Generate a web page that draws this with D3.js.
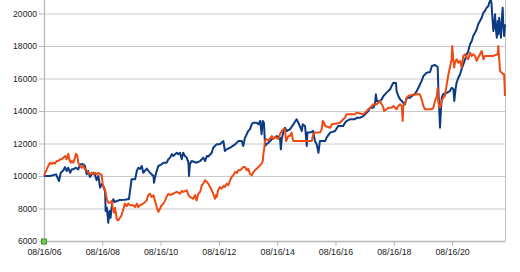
<!DOCTYPE html>
<html><head><meta charset="utf-8">
<script src="https://cdn.jsdelivr.net/npm/d3@7"></script>
<style>html,body{margin:0;padding:0;background:#fff;} svg{display:block;}</style>
</head><body><svg id="c" width="520" height="272"></svg>
<script>
const yTicks = [6000, 8000, 10000, 12000, 14000, 16000, 18000, 20000];
const xTickYears = [2006.625, 2008.625, 2010.625, 2012.625, 2014.625, 2016.625, 2018.625, 2020.625];
const xTickLabels = ["08/16/06", "08/16/08", "08/16/10", "08/16/12", "08/16/14", "08/16/16", "08/16/18", "08/16/20"];

// [decimal year, value]
const seriesBlue = [[2006.63,10000],[2006.83,10000],[2007.04,10100],[2007.14,9690],[2007.20,10200],[2007.29,10350],[2007.35,10550],[2007.40,10310],[2007.46,10510],[2007.52,10200],[2007.58,10410],[2007.63,10410],[2007.72,10510],[2007.80,10410],[2007.86,10720],[2007.97,10720],[2008.03,10620],[2008.09,10100],[2008.14,10310],[2008.20,9940],[2008.26,10100],[2008.32,10200],[2008.37,10100],[2008.43,9740],[2008.49,10000],[2008.55,9280],[2008.60,9490],[2008.66,9385],[2008.72,9080],[2008.74,7850],[2008.78,8050],[2008.83,7130],[2008.87,7850],[2008.91,7430],[2008.95,8150],[2009.00,8570],[2009.06,8400],[2009.12,8460],[2009.23,8520],[2009.40,8540],[2009.54,8590],[2009.63,9800],[2009.75,9800],[2009.81,10310],[2009.86,10510],[2009.92,10430],[2009.98,10620],[2010.03,10200],[2010.15,10460],[2010.26,10200],[2010.38,10000],[2010.40,9590],[2010.43,9900],[2010.49,10310],[2010.55,10620],[2010.66,10720],[2010.72,10820],[2010.83,10820],[2010.89,11030],[2010.95,11130],[2011.01,11340],[2011.06,11230],[2011.18,11430],[2011.23,11340],[2011.29,11430],[2011.35,11030],[2011.40,11430],[2011.46,11230],[2011.52,11130],[2011.58,10820],[2011.60,10000],[2011.63,10720],[2011.69,10920],[2011.86,10820],[2011.98,10920],[2012.09,11130],[2012.15,10920],[2012.21,11230],[2012.26,11200],[2012.38,11430],[2012.43,11740],[2012.49,11850],[2012.55,11950],[2012.66,11950],[2012.78,12150],[2012.83,11540],[2012.89,11640],[2013.01,11740],[2013.18,11950],[2013.24,12050],[2013.29,12150],[2013.41,12150],[2013.46,11850],[2013.52,12360],[2013.58,12570],[2013.63,12770],[2013.69,12870],[2013.75,13180],[2013.81,13280],[2013.92,13280],[2013.98,13180],[2014.04,13390],[2014.09,12570],[2014.13,13390],[2014.17,13280],[2014.21,11850],[2014.26,11950],[2014.32,12050],[2014.44,12260],[2014.61,12460],[2014.72,12360],[2014.75,11640],[2014.78,12260],[2014.83,12670],[2014.89,12970],[2014.95,12770],[2015.06,12870],[2015.18,13180],[2015.29,13490],[2015.35,13280],[2015.47,12770],[2015.50,13180],[2015.58,13080],[2015.64,11850],[2015.66,12670],[2015.75,12670],[2015.86,12770],[2015.92,12150],[2015.98,11950],[2016.04,11430],[2016.09,12150],[2016.27,12150],[2016.32,12360],[2016.44,12670],[2016.61,12770],[2016.72,13080],[2016.89,13080],[2016.95,13280],[2017.01,13390],[2017.12,13490],[2017.29,13490],[2017.35,13590],[2017.47,13590],[2017.58,13690],[2017.64,13800],[2017.75,14000],[2017.81,14200],[2017.92,14200],[2017.98,14410],[2018.01,15030],[2018.04,14620],[2018.15,14620],[2018.21,14720],[2018.27,14920],[2018.38,15130],[2018.50,15340],[2018.55,15540],[2018.61,15740],[2018.70,15720],[2018.72,15230],[2018.78,14920],[2018.84,14720],[2018.90,14620],[2018.95,14490],[2019.01,14410],[2019.07,14820],[2019.18,14820],[2019.24,14920],[2019.35,15050],[2019.41,15230],[2019.47,15430],[2019.58,15850],[2019.64,16150],[2019.70,16260],[2019.75,16360],[2019.87,16400],[2019.93,16770],[2020.04,16830],[2020.13,16710],[2020.15,15540],[2020.21,12970],[2020.24,14000],[2020.27,14820],[2020.32,15030],[2020.50,15170],[2020.55,15230],[2020.61,15430],[2020.67,15350],[2020.70,14620],[2020.75,15430],[2020.78,15740],[2020.84,16050],[2020.90,16260],[2020.95,16570],[2021.01,16870],[2021.07,17180],[2021.13,17490],[2021.18,17690],[2021.24,18110],[2021.30,18310],[2021.35,18620],[2021.41,18820],[2021.47,19030],[2021.52,19340],[2021.58,19540],[2021.64,19740],[2021.70,20050],[2021.75,20150],[2021.81,20360],[2021.87,20460],[2021.90,20670],[2021.93,20770],[2021.96,20800],[2021.98,20570],[2022.00,19950],[2022.04,18920],[2022.07,19350],[2022.10,19950],[2022.12,19130],[2022.16,18510],[2022.19,19540],[2022.21,18720],[2022.24,19740],[2022.27,19130],[2022.30,18510],[2022.33,19540],[2022.36,20360],[2022.38,19340],[2022.41,18620],[2022.44,19340]];

const seriesOrange = [[2006.63,10000],[2006.66,10200],[2006.72,10410],[2006.77,10620],[2006.83,10820],[2006.89,10740],[2006.94,10820],[2007.00,10760],[2007.06,10920],[2007.12,10920],[2007.17,11030],[2007.23,11030],[2007.29,11130],[2007.35,11230],[2007.40,11030],[2007.46,11370],[2007.49,11030],[2007.54,10820],[2007.58,10920],[2007.63,10820],[2007.69,11130],[2007.72,11370],[2007.77,11230],[2007.80,10820],[2007.86,10620],[2007.92,10510],[2007.97,10620],[2008.03,10410],[2008.09,10350],[2008.15,10200],[2008.20,10100],[2008.26,10200],[2008.32,10100],[2008.37,10200],[2008.43,10100],[2008.49,10200],[2008.55,10100],[2008.60,10100],[2008.64,9490],[2008.68,9180],[2008.72,9180],[2008.75,8870],[2008.78,8570],[2008.83,8360],[2008.89,8360],[2008.95,8460],[2008.98,8050],[2009.03,7740],[2009.06,8050],[2009.10,7640],[2009.12,7340],[2009.17,7270],[2009.23,7420],[2009.29,7600],[2009.35,7990],[2009.40,8300],[2009.46,8150],[2009.52,8300],[2009.58,8200],[2009.69,8200],[2009.75,8090],[2009.81,8300],[2009.86,8090],[2009.92,8200],[2010.03,8300],[2010.15,8500],[2010.20,8810],[2010.26,8910],[2010.32,8710],[2010.38,8810],[2010.43,8500],[2010.49,8090],[2010.55,7790],[2010.60,7970],[2010.66,8200],[2010.72,8300],[2010.78,8500],[2010.83,8710],[2010.89,8910],[2010.95,8830],[2011.06,8910],[2011.18,9020],[2011.29,8910],[2011.35,9080],[2011.40,9020],[2011.52,9120],[2011.58,8830],[2011.63,8710],[2011.75,8600],[2011.81,8830],[2011.86,8500],[2011.92,8910],[2011.98,9020],[2012.04,9430],[2012.09,9530],[2012.15,9740],[2012.21,9630],[2012.26,9530],[2012.32,9320],[2012.38,9120],[2012.43,8910],[2012.49,8600],[2012.53,8830],[2012.55,8710],[2012.60,9120],[2012.66,9320],[2012.72,9220],[2012.78,9390],[2012.83,9320],[2012.89,9530],[2012.95,9430],[2013.01,9740],[2013.06,9940],[2013.12,10040],[2013.18,10250],[2013.24,10190],[2013.29,10350],[2013.35,10350],[2013.41,10450],[2013.46,10550],[2013.52,10550],[2013.58,10350],[2013.63,10450],[2013.69,10140],[2013.75,10040],[2013.81,10250],[2013.86,10350],[2013.92,10450],[2013.98,10550],[2014.04,10660],[2014.09,10760],[2014.13,10920],[2014.15,11350],[2014.18,11680],[2014.21,12200],[2014.26,12260],[2014.32,12200],[2014.38,12310],[2014.44,12460],[2014.49,12280],[2014.55,12400],[2014.61,12340],[2014.66,12280],[2014.72,12570],[2014.78,12770],[2014.83,12870],[2014.89,12870],[2014.93,12150],[2015.01,12460],[2015.06,12460],[2015.12,12670],[2015.16,12260],[2015.18,12150],[2015.81,12150],[2015.86,12570],[2015.92,12670],[2016.09,12670],[2016.15,12870],[2016.19,13390],[2016.23,13280],[2016.27,13080],[2016.44,12970],[2016.50,13180],[2016.67,13230],[2016.78,13280],[2016.89,13490],[2016.95,13590],[2017.01,13800],[2017.29,13800],[2017.35,13900],[2017.58,13800],[2017.70,14000],[2017.75,14110],[2017.81,14200],[2017.87,14310],[2017.92,14410],[2018.04,14410],[2018.09,14510],[2018.15,14620],[2018.21,14410],[2018.27,14200],[2018.29,14000],[2018.38,14110],[2018.44,14200],[2018.55,14200],[2018.61,14310],[2018.72,14110],[2018.78,14310],[2018.84,14410],[2018.90,14310],[2018.93,13390],[2018.95,14310],[2019.01,14510],[2019.07,14820],[2019.12,14920],[2019.24,14990],[2019.41,15030],[2019.52,15030],[2019.58,14720],[2019.64,14310],[2019.70,14110],[2019.93,14110],[2019.98,14200],[2020.04,14620],[2020.10,14920],[2020.13,15430],[2020.15,14620],[2020.19,14200],[2020.21,14200],[2020.27,14620],[2020.32,14820],[2020.38,14920],[2020.44,15640],[2020.50,16260],[2020.55,16670],[2020.61,17180],[2020.63,18000],[2020.67,17080],[2020.70,16670],[2020.72,16970],[2020.78,17180],[2020.84,16970],[2020.90,17080],[2020.93,16870],[2020.95,16670],[2021.01,17390],[2021.07,17490],[2021.13,17280],[2021.18,17180],[2021.24,17590],[2021.30,17390],[2021.35,17490],[2021.41,17390],[2021.47,17080],[2021.52,17280],[2021.58,17490],[2021.64,17690],[2021.70,17180],[2021.75,17390],[2021.93,17390],[2022.04,17390],[2022.19,17490],[2022.21,18000],[2022.24,17280],[2022.27,16460],[2022.33,16360],[2022.38,16260],[2022.41,16260],[2022.44,14920]];

const left = 44, right = 505, bottom = 241;
const svg = d3.select('#c');
const x = d3.scaleLinear().domain([2006.625, 2022.44]).range([left, right]);
const y = d3.scaleLinear().domain([6000, 22000]).range([bottom, bottom - 260]);
const font = '"Liberation Sans", Arial, sans-serif';

// gridlines
const grid = svg.append('g').attr('transform', `translate(${left},0)`)
  .call(d3.axisLeft(y).tickValues(yTicks).tickSize(-(right - left)).tickFormat(''));
grid.select('.domain').remove();
grid.selectAll('line').attr('stroke', '#cacaca').attr('stroke-width', 1);

// right border
svg.append('line').attr('x1', right + 0.5).attr('x2', right + 0.5)
  .attr('y1', 0).attr('y2', bottom).attr('stroke', '#c4c4c4');

// y axis
const ya = svg.append('g').attr('transform', `translate(${left},0)`)
  .call(d3.axisLeft(y).tickValues(yTicks).tickSize(5).tickSizeOuter(0).tickPadding(2).tickFormat(d3.format('d')));
ya.select('.domain').attr('stroke', '#b8b8b8').attr('stroke-width', 1.3);
ya.selectAll('line').attr('stroke', '#b8b8b8');
ya.selectAll('text').attr('font-family', font).attr('font-size', '8.6px').attr('fill', '#222');

// x axis
const xa = svg.append('g').attr('transform', `translate(0,${bottom})`)
  .call(d3.axisBottom(x).tickValues(xTickYears).tickSize(5).tickSizeOuter(0).tickPadding(3)
    .tickFormat((d, i) => xTickLabels[i]));
xa.select('.domain').attr('stroke', '#b8b8b8').attr('stroke-width', 1.3);
xa.selectAll('line').attr('stroke', '#b8b8b8');
xa.selectAll('text').attr('font-family', font).attr('font-size', '8.8px').attr('fill', '#222');

// lines
const line = d3.line().x(d => x(d[0])).y(d => y(d[1]));
svg.append('path').datum(seriesBlue).attr('d', line)
  .attr('fill', 'none').attr('stroke', '#0c3b84').attr('stroke-width', 2).attr('stroke-linejoin', 'round');
svg.append('path').datum(seriesOrange).attr('d', line)
  .attr('fill', 'none').attr('stroke', '#f04a14').attr('stroke-width', 2).attr('stroke-linejoin', 'round');

// origin marker
svg.append('rect').attr('x', x(2006.625) - 2.5).attr('y', y(6000) - 2).attr('width', 5).attr('height', 5)
  .attr('fill', '#6fd04a').attr('stroke', '#2f7d1f').attr('stroke-width', 0.8);
</script></body></html>
